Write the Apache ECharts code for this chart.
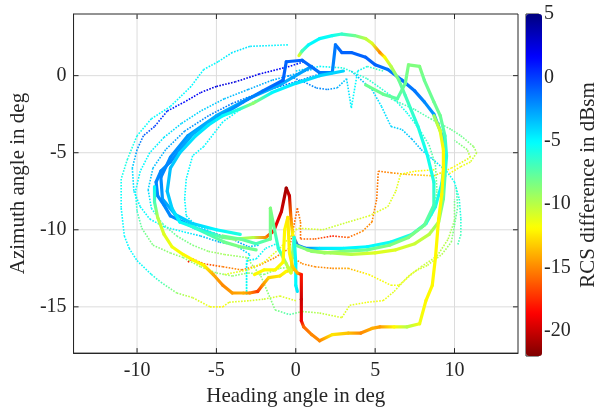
<!DOCTYPE html>
<html>
<head>
<meta charset="utf-8">
<script src="https://cdn.jsdelivr.net/npm/echarts@6/dist/echarts.min.js"></script>
<style>html,body{margin:0;background:#fff}#chart{width:600px;height:412px}</style>
</head>
<body>
<div id="chart"></div>
<script>
// tick labels
var xTicks = [-10, -5, 0, 5, 10];
var yTicks = [-15, -10, -5, 0];
var cTicks = [-20, -15, -10, -5, 0, 5];

// thin dotted tracks: [heading, azimuth, rcs diff]
var tA = [[-0.5,2.0,-5],[-2.9,1.9,-4.5],[-4,1.5,-4.5],[-4.9,0.9,-5],[-5.8,0.4,-5],[-6.6,-0.7,-5],[-7.9,-2,-5],[-9.1,-2.8,-5],[-10,-3.9,-5.5],[-10.6,-5.4,-6],[-11,-6.7,-5.5],[-11,-8.6,-5],[-10.8,-10.4,-5],[-10.5,-11.2,-5],[-10,-12,-5],[-9.1,-12.9,-5.5],[-8.5,-13.4,-7],[-7.5,-14.1,-9],[-6.5,-14.4,-10.5],[-5.4,-15.0,-11.5],[-4.6,-15.0,-12],[-4.2,-14.7,-11],[-2.9,-14.6,-11],[-2.0,-14.5,-10.5],[-1.0,-14.3,-11],[0,-14.6,-11]];
var tB = [[0.5,0.9,0],[-0.4,0.6,1.5],[-2.3,0.1,2],[-3.8,-0.4,2.5],[-5,-0.7,2.5],[-6,-1.1,2],[-7,-1.7,1.5],[-8.1,-2.3,0.5],[-8.9,-3.3,0],[-9.6,-3.9,-1],[-10,-4.8,-2.5],[-10.3,-6,-4],[-10.2,-7.5,-4.5],[-9.8,-8.5,-5],[-9.2,-9.3,-5],[-8.3,-9.8,-5],[-7.2,-10.1,-5],[-6,-10.4,-4],[-4.8,-10.8,-3],[-3.8,-11.0,-3],[-2.9,-11.6,-4.5],[-3.1,-12.2,-5],[-3.1,-14.2,-5.5],[-3.1,-12.0,-5],[-2.5,-11.9,-5],[-1.9,-11.2,-5.5],[-1.2,-10.9,-5]];
var tC = [[1.0,0.4,-3],[-1.5,-0.3,-3],[-3,-0.9,-3],[-4.5,-1.5,-3.5],[-6,-2.3,-4],[-7.2,-3.1,-4],[-8.3,-4.0,-4.5],[-9.2,-5.0,-5],[-9.8,-6.2,-5],[-10.1,-7.5,-5],[-10,-8.8,-6.5],[-9.7,-9.9,-8],[-9,-11,-8.5],[-7.9,-11.5,-9],[-7.1,-11.8,-9],[-6,-12.4,-9],[-5,-12.8,-9],[-4,-13.0,-9],[-3,-12.8,-9],[-2,-12.9,-8.5],[-1,-12.5,-9],[0,-12.4,-10]];
var tD = [[1.5,0.1,-2],[0,-0.4,-1],[-2,-1.0,-1],[-4,-1.8,-1.5],[-5.5,-2.6,-2],[-7,-3.6,-2.5],[-8.2,-4.8,-3],[-9,-6,-3.5],[-9.3,-7.4,-4],[-9.1,-8.6,-5],[-8.4,-9.6,-7],[-7.5,-10.4,-8],[-6.5,-11,-8.5],[-5.5,-11.4,-9],[-4.5,-11.6,-9.5],[-3.1,-11.8,-9],[-2.2,-13.0,-9],[-1.3,-15.2,-8.5],[-0.4,-15.5,-7],[0.4,-15.3,-9],[1.5,-15.4,-10],[2.9,-15.7,-11],[3.4,-14.9,-11],[4.5,-14.7,-11.5],[5.5,-14.6,-11.5],[6.2,-14.0,-11],[7.1,-13.0,-11],[7.9,-12.4,-10.5],[8.9,-11.7,-10],[9.6,-10.6,-10],[10,-9.4,-9],[10,-8.0,-8]];
var tE = [[-2.5,-1.6,-4.5],[-3.5,-2.2,-5],[-4.6,-3.0,-5],[-5.8,-4.6,-5],[-6.5,-5.2,-5],[-6.9,-6.7,-5],[-7,-8,-5],[-6.9,-9.1,-5],[-6.3,-9.7,-4],[-5.2,-10.2,-2.5],[-4,-10.6,-2],[-3,-11.1,-3],[-2.3,-11.0,-4]];
var tF = [[-6.8,-12.1,-18],[-6.5,-11.9,-18.5],[-5.8,-12.2,-17],[-4.6,-12.4,-15.5],[-3.4,-12.6,-15],[-2.3,-12.3,-15],[-1.3,-11.8,-15],[-0.4,-11.2,-16],[0.1,-8.6,-16],[0.3,-9.5,-15],[0.3,-10.6,-16],[1.2,-10.6,-16],[2.3,-10.4,-18],[3.3,-10.5,-16],[4.2,-10.1,-15],[4.8,-9.5,-15],[5.1,-8.0,-15.5],[5.2,-6.2,-15.5],[6,-6.3,-15],[6.9,-6.4,-14],[8.7,-6.5,-13],[9.8,-6.0,-12],[11,-5.3,-11],[10.8,-4.8,-9],[10,-4.2,-8]];
var tG = [[-4.5,-12.9,-11],[-3,-12.6,-11.5],[-2,-12.1,-11.5],[-1,-11.2,-11],[0,-10,-11],[0.2,-9.9,-11],[1.7,-10,-10.5],[3.3,-9.5,-10.5],[4.6,-9.1,-11],[5.8,-8.5,-11],[6.3,-7.5,-11],[6.6,-6.4,-11.5],[7.5,-6.2,-12],[8.8,-6.1,-12]];
var tH = [[-0.2,-11.8,-14],[0.4,-12.2,-15],[1.2,-12.4,-15],[2.3,-12.5,-15],[3.3,-12.5,-14],[4.6,-12.9,-12],[6,-13.6,-11.5],[6.5,-13.6,-11.5],[7.5,-12.7,-11],[8.3,-12.3,-10.5],[9.2,-11.6,-10],[9.8,-10.8,-9],[10,-9.7,-8],[10.2,-8.5,-7.5],[10.1,-7.2,-7]];
var tK = [[3.5,0.3,-3],[4.8,-0.9,-4],[5.4,-2,-4.5],[6,-3.3,-4],[6.7,-3.5,-4],[7.3,-4.1,-3.5],[7.9,-4.8,-3.5],[8.6,-5.4,-4],[9.5,-6.2,-5],[10,-6.9,-5.5],[10.3,-8,-6],[10.4,-9.3,-6],[10.4,-10.3,-7],[10.2,-11,-7]];
var tL = [[6,-1.5,-7],[7.5,-2.2,-7],[8.5,-2.8,-7.5],[9.8,-3.5,-8],[10.4,-3.9,-8],[11.2,-4.6,-9],[11.4,-5,-10],[11,-5.6,-11],[10.4,-5.9,-11.5],[9.6,-6.4,-12]];
var tM = [[0,0.3,-4],[1.5,0.6,-5],[3,0.5,-6],[4.5,-0.2,-6.5],[6,-1.3,-6],[7,-2.4,-5.5],[7.8,-3.5,-6],[8.4,-4.5,-7],[8.8,-5.8,-8],[8.9,-7.5,-8.5],[8.6,-9,-9],[8,-9.8,-10]];
var tN = [[-0.5,0.0,-2],[0.5,-0.4,-2],[1.3,-0.8,-2],[2.0,-0.9,-2],[2.6,-0.8,-3],[3.2,-0.2,-4],[3.5,-2.1,-5],[3.9,0.3,-5],[4.5,0.6,-6],[5.5,0.3,-7]];

// thick tracks
var k1 = [[2.3,0.2,-2],[2.5,2.0,-1.5],[2.9,1.5,-1],[3.5,1.5,-1],[4.4,1.2,-1],[5,0.7,-1],[5.8,0.4,-1.5],[6.7,-0.3,-1.5],[7.5,-1,-1.5],[8.1,-1.7,-2],[8.7,-2.5,-2.5],[9,-3.3,-3],[9.3,-4.1,-4],[9.4,-5.5,-4.5],[9.2,-7,-5],[8.8,-8.5,-6],[8.2,-9.6,-6],[7.3,-10.3,-6],[6,-10.8,-5.5],[4.5,-11.1,-5],[3,-11.2,-5],[1.5,-11.2,-4.5],[0.6,-11.2,-1.5],[0.1,-11.0,-1],[-0.2,-10.3,-12],[-0.3,-9.3,-15],[-0.4,-7.8,-20],[-0.6,-7.3,-21],[-0.9,-8.8,-20],[-1.4,-10.1,-18.5],[-1.9,-10.5,-15],[-2.7,-10.5,-10],[-3.8,-10.6,-9],[-4.6,-10.5,-8],[-5.4,-10.2,-6],[-6.3,-9.9,-4],[-7.1,-9.5,-2.5],[-7.9,-9.1,-2],[-8.3,-8.4,-2],[-8.7,-7.8,-2],[-8.8,-6.9,-2],[-8.5,-6.2,-2],[-7.9,-5.6,-2],[-7.3,-4.8,-2.5],[-6.5,-3.8,-3],[-5.4,-3,-3],[-4.4,-2.4,-2.5],[-3.3,-1.7,-2],[-2.1,-1,-1.5],[-0.8,-0.3,-1],[-0.6,0.9,-1],[0.4,1.0,-1],[1.5,0.2,-1.5],[2.3,0.2,-2]];
var k2 = [[3,0.3,-4],[1.5,0.0,-4],[0,-0.5,-4.5],[-1.5,-1.1,-5],[-2.7,-1.8,-9],[-3.6,-2.2,-6],[-4.6,-2.6,-5],[-5.5,-3.2,-4.5],[-6.3,-3.9,-4.5],[-7.3,-5,-4],[-7.9,-6,-3.5],[-8.1,-7.5,-3.5],[-7.8,-8.6,-4],[-7.3,-9.5,-5],[-6.5,-9.8,-6],[-5.5,-10.3,-7],[-4.5,-10.8,-8],[-3.5,-11.1,-8.5],[-2.5,-11.3,-8]];
var k3 = [[-8.9,-7.2,-5],[-8.9,-8.2,-7],[-8.7,-9.2,-10],[-8.3,-10.3,-11],[-7.8,-11.1,-11.5],[-7.1,-11.6,-12],[-6.4,-12,-12],[-5.8,-12.3,-12],[-5.2,-12.9,-14],[-4.6,-13.6,-15],[-4,-14.1,-14.5],[-3.3,-14.1,-14],[-2.9,-14.1,-15],[-2.4,-14.0,-17],[-2.1,-13.6,-15],[-1.7,-13.1,-13],[-1,-13,-12.5],[-0.6,-12.7,-12],[-0.2,-12.6,-14]];
var k4 = [[1.0,0.6,-2.5],[-1,-0.6,-3],[-3,-1.5,-3],[-5,-2.6,-3],[-6.8,-3.9,-2.5],[-7.9,-5.3,-2],[-8.5,-6.6,-2],[-8.4,-8,-2.5],[-7.6,-9,-3.5],[-6.5,-9.6,-4],[-5,-10,-5],[-3.5,-10.3,-6]];
var k5 = [[0.2,1.3,-11],[0.4,1.6,-7],[0.8,2.0,-5],[1.5,2.4,-5],[2.3,2.6,-5.5],[2.9,2.7,-6.5],[3.7,2.6,-8],[4.4,2.4,-10],[4.8,2.1,-11],[5.3,1.5,-15],[5.6,1.2,-12],[6,0.6,-10],[6.5,-0.3,-8],[6.9,-1.3,-7],[7.7,-3.3,-6],[8.3,-5.2,-5.5],[8.7,-6.9,-6],[8.7,-8.4,-7],[8.1,-9.7,-8],[7.1,-10.5,-8.5],[5.9,-11,-8.5],[4.5,-11.3,-8],[3,-11.4,-8.5],[1.8,-11.5,-9],[0.7,-11.3,-10]];
var k6 = [[4.4,-0.6,-8],[5.5,-1.2,-8],[6.4,-1.5,-7.5],[6.9,-0.5,-8],[7.1,0.7,-8.5],[7.8,0.6,-8.5],[8.1,-0.3,-8],[8.7,-1.7,-8],[9.1,-2.6,-8],[9.4,-3.9,-7],[9.5,-5.2,-6],[9.4,-6.5,-7],[9.3,-8,-8],[9,-9.5,-9],[8.4,-10.3,-10],[7.5,-10.9,-10.5],[6.3,-11.3,-11],[5,-11.5,-11],[3.5,-11.6,-10],[2.2,-11.5,-9.5],[1,-11.4,-9],[0,-11.0,-8]];
var k7 = [[-4.6,-10.4,-8],[-3.5,-10.6,-8],[-2.5,-10.9,-7],[-1.6,-10.6,-8],[-1.6,-8.6,-8.5],[-1.4,-9.7,-8],[-1.1,-11.2,-6],[-0.6,-12.2,-10],[-0.3,-12.8,-11],[-0.2,-11.5,-9],[-0.1,-10.5,-6],[0,-12.2,-5],[0.0,-13.6,-5],[0.1,-14.0,-4.5]];
var k8 = [[-2.6,-12.9,-12],[-2,-12.6,-12],[-1.3,-12.6,-12],[-0.8,-12.1,-12],[-0.7,-10,-12],[-0.5,-9.2,-12.5],[-0.4,-11.5,-12],[-0.2,-12.4,-13],[0.1,-12.8,-14],[0.35,-12.9,-18],[0.35,-14.5,-20],[0.35,-15.9,-19],[0.5,-16.3,-16],[1,-16.8,-15],[1.5,-17.2,-15],[2.3,-16.8,-12.5],[3.3,-16.7,-13.5],[4.1,-16.7,-15],[4.8,-16.4,-14],[5.3,-16.3,-14.5],[6.2,-16.3,-12],[7,-16.3,-10],[7.8,-16.1,-11.5],[8.2,-14.6,-12],[8.6,-13.6,-12],[8.8,-11.8,-12],[9,-9.3,-12],[9.2,-7.7,-12],[9.3,-6,-12],[9.3,-4.8,-12],[9.1,-3.6,-11],[8.7,-2.6,-9]];

var thinTracks = [tA, tB, tC, tD, tE, tF, tG, tH, tK, tL, tM, tN];
var thickTracks = [k4, k1, k2, k3, k5, k6, k7, k8];

var jet = ['#7f0000','#ff0000','#ff7f00','#ffff00','#7fff7f','#00ffff','#007fff','#0000ff','#00007f'];
var font = 'Liberation Serif, Times New Roman, serif';
var ink = '#262626';
var X0 = -14, X1 = 14, Y0 = -18, Y1 = 4;

function segRender(width, dash) {
    return function (params, api) {
        var i = params.dataIndexInside;
        if (i + 1 >= params.dataInsideLength) return;
        var p1 = api.coord([api.value(0, i), api.value(1, i)]);
        var p2 = api.coord([api.value(0, i + 1), api.value(1, i + 1)]);
        var c1 = api.visual('color', i), c2 = api.visual('color', i + 1);
        return {
            type: 'line',
            shape: {x1: p1[0], y1: p1[1], x2: p2[0], y2: p2[1]},
            style: {
                stroke: new echarts.graphic.LinearGradient(p1[0], p1[1], p2[0], p2[1] + 0.01,
                    [{offset: 0, color: c1}, {offset: 1, color: c2}], true),
                lineWidth: width,
                lineDash: dash,
                lineCap: dash ? 'butt' : 'round'
            }
        };
    };
}

// grid line + inward ticks at both ends
function gridRender(vertical) {
    return function (params, api) {
        var v = api.value(0);
        var a = vertical ? api.coord([v, Y0]) : api.coord([X0, v]);
        var b = vertical ? api.coord([v, Y1]) : api.coord([X1, v]);
        var t = 5;
        var kids = [{type: 'line', shape: {x1: a[0], y1: a[1], x2: b[0], y2: b[1]},
            style: {stroke: '#dcdcdc', lineWidth: 1}}];
        if (vertical) {
            kids.push({type: 'line', shape: {x1: a[0], y1: a[1], x2: a[0], y2: a[1] - t}, style: {stroke: ink, lineWidth: 1}});
            kids.push({type: 'line', shape: {x1: b[0], y1: b[1], x2: b[0], y2: b[1] + t}, style: {stroke: ink, lineWidth: 1}});
        } else {
            kids.push({type: 'line', shape: {x1: a[0], y1: a[1], x2: a[0] + t, y2: a[1]}, style: {stroke: ink, lineWidth: 1}});
            kids.push({type: 'line', shape: {x1: b[0], y1: b[1], x2: b[0] - t, y2: b[1]}, style: {stroke: ink, lineWidth: 1}});
        }
        return {type: 'group', children: kids};
    };
}

var series = [
    {type: 'custom', xAxisIndex: 0, yAxisIndex: 0, silent: true, z: 0,
        data: xTicks.map(function (v) { return [v]; }), encode: {x: 0}, renderItem: gridRender(true)},
    {type: 'custom', xAxisIndex: 0, yAxisIndex: 0, silent: true, z: 0,
        data: yTicks.map(function (v) { return [v]; }), encode: {y: 0}, renderItem: gridRender(false)}
];
var trackIdx = [];
thinTracks.forEach(function (t) {
    trackIdx.push(series.length);
    series.push({type: 'custom', xAxisIndex: 0, yAxisIndex: 0, data: t, encode: {x: 0, y: 1},
        renderItem: segRender(1.6, [1.6, 1.4]), silent: true});
});
thickTracks.forEach(function (t) {
    trackIdx.push(series.length);
    series.push({type: 'custom', xAxisIndex: 0, yAxisIndex: 0, data: t, encode: {x: 0, y: 1},
        renderItem: segRender(3.2, null), silent: true});
});

var chart = echarts.init(document.getElementById('chart'));
chart.setOption({
    animation: false,
    backgroundColor: '#fff',
    grid: [
        {left: 69, top: 14, width: 449, height: 342, show: true, borderColor: ink, borderWidth: 1},
        {left: 526, top: 14, width: 16, height: 342, show: true, borderColor: ink, borderWidth: 1}
    ],
    xAxis: [
        {
            gridIndex: 0, type: 'value', min: X0, max: X1, position: 'bottom',
            axisLine: {onZero: false, lineStyle: {color: ink}},
            axisTick: {show: false},
            axisLabel: {customValues: xTicks, color: ink, fontFamily: font, fontSize: 20, margin: 8},
            splitLine: {show: false},
            name: 'Heading angle in deg', nameLocation: 'middle', nameGap: 30,
            nameTextStyle: {color: ink, fontFamily: font, fontSize: 21}
        },
        {gridIndex: 1, type: 'value', min: 0, max: 1, show: false}
    ],
    yAxis: [
        {
            gridIndex: 0, type: 'value', min: Y0, max: Y1, position: 'left',
            axisLine: {onZero: false, lineStyle: {color: ink}},
            axisTick: {show: false},
            axisLabel: {customValues: yTicks, color: ink, fontFamily: font, fontSize: 20, margin: 7},
            splitLine: {show: false},
            name: 'Azimuth angle in deg', nameLocation: 'middle', nameGap: 32, nameRotate: 90,
            nameTextStyle: {color: ink, fontFamily: font, fontSize: 21}
        },
        {
            gridIndex: 1, type: 'value', min: -22, max: 5, position: 'right',
            axisLine: {show: true, onZero: false, lineStyle: {color: ink}},
            axisTick: {show: true, inside: true, length: 3, customValues: cTicks, lineStyle: {color: ink}},
            axisLabel: {customValues: cTicks, color: ink, fontFamily: font, fontSize: 20, margin: 6},
            splitLine: {show: false},
            name: 'RCS difference in dBsm', nameLocation: 'middle', nameGap: 40, nameRotate: 90,
            nameTextStyle: {color: ink, fontFamily: font, fontSize: 21}
        }
    ],
    visualMap: {
        type: 'continuous', min: -22, max: 5, dimension: 2, seriesIndex: trackIdx,
        inRange: {color: jet}, left: 526, top: 14, itemWidth: 16, itemHeight: 342,
        padding: 0, calculable: false, hoverLink: false, text: null, z: 1
    },
    series: series
});
</script>
</body>
</html>
